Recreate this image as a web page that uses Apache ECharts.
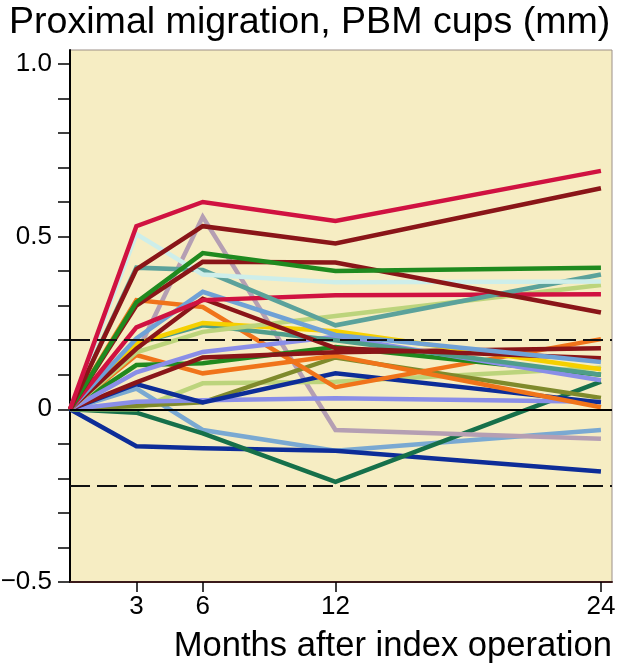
<!DOCTYPE html>
<html>
<head>
<meta charset="utf-8">
<script src="https://cdn.jsdelivr.net/npm/echarts@6/dist/echarts.min.js"></script>
<style>html,body{margin:0;padding:0;background:#fff;}#c{width:618px;height:665px;}</style>
</head>
<body>
<div id="c"></div>
<script>
// Months after index operation
var months = [0, 3, 6, 12, 24];
var xTickValues = [3, 6, 12, 24];
var yTickValues = [-0.5,-0.4,-0.3,-0.2,-0.1,0,0.1,0.2,0.3,0.4,0.5,0.6,0.7,0.8,0.9,1.0];
var yLabelValues = [-0.5, 0, 0.5, 1.0];
var limitLines = [0.2, -0.22];

// Proximal migration (mm) per cup
var crimsonTop   = [0, 0.53, 0.60, 0.545, 0.69];
var maroonTop    = [0, 0.405, 0.53, 0.48, 0.64];
var lightCyan    = [0, 0.507, 0.39, 0.368, 0.37];
var mauve        = [0, 0.16, 0.557, -0.06, -0.085];
var greenTop     = [0, 0.31, 0.452, 0.40, 0.41];
var maroon2      = [0, 0.30, 0.427, 0.425, 0.28];
var teal1        = [0, 0.41, 0.403, 0.243, 0.39];
var orangeU      = [0, 0.316, 0.296, 0.064, 0.203];
var orangeL      = [0, 0.157, 0.104, 0.155, 0.006];
var steelBlue    = [0, 0.205, 0.34, 0.215, 0.137];
var lightBlue    = [0, 0.06, -0.06, -0.12, -0.06];
var navyLow      = [0, -0.107, -0.113, -0.12, -0.18];
var darkGreen    = [0, -0.01, -0.07, -0.21, 0.08];
var navyUp       = [0, 0.073, 0.02, 0.104, 0.02];
var periLow      = [0, 0.022, 0.026, 0.032, 0.022];
var periUp       = [0, 0.107, 0.166, 0.21, 0.084];
var yellow       = [0, 0.19, 0.25, 0.226, 0.116];
var lightGreenA  = [0, 0.0, 0.075, 0.08, 0.12];
var lightGreenB  = [0, 0.165, 0.224, 0.27, 0.36];
var olive        = [0, 0.01, 0.02, 0.15, 0.033];
var maroon3      = [0, 0.175, 0.32, 0.177, 0.148];
var maroon4      = [0, 0.078, 0.15, 0.165, 0.177];
var crimson2     = [0, 0.237, 0.316, 0.33, 0.333];
var greenLow     = [0, 0.128, 0.133, 0.18, 0.10];
var teal2        = [0, 0.19, 0.243, 0.20, 0.10];

var lines = [
  {d: lightBlue,   c: '#7aa9d2'},
  {d: navyLow,     c: '#0d2d98'},
  {d: darkGreen,   c: '#16704a'},
  {d: mauve,       c: '#b59fb3'},
  {d: lightGreenA, c: '#bcd47c'},
  {d: olive,       c: '#7f8a2c'},
  {d: periLow,     c: '#8a8ee8'},
  {d: navyUp,      c: '#0d2d98'},
  {d: orangeL,     c: '#f0741a'},
  {d: orangeU,     c: '#f0741a'},
  {d: greenLow,    c: '#20891f'},
  {d: maroon4,     c: '#8a1518'},
  {d: periUp,      c: '#8a8ee8'},
  {d: teal2,       c: '#4f9d8b'},
  {d: yellow,      c: '#f6d000'},
  {d: lightGreenB, c: '#bcd47c'},
  {d: maroon3,     c: '#8a1518'},
  {d: steelBlue,   c: '#6fa1d6'},
  {d: crimson2,    c: '#d01241'},
  {d: teal1,       c: '#5ba29b'},
  {d: lightCyan,   c: '#cdeeea'},
  {d: maroon2,     c: '#8a1518'},
  {d: greenTop,    c: '#1f8a1f'},
  {d: maroonTop,   c: '#8a1518'},
  {d: crimsonTop,  c: '#d01241'}
];

var series = [{
  type: 'line', data: [], silent: true,
  markLine: {
    silent: true, symbol: 'none', animation: false,
    label: {show: false},
    data: [
      {yAxis: 0, lineStyle: {color: '#000', width: 2, type: 'solid'}},
      {yAxis: limitLines[0], lineStyle: {color: '#111', width: 2, type: [20, 7]}},
      {yAxis: limitLines[1], lineStyle: {color: '#111', width: 2, type: [20, 7]}}
    ]
  }
}];
lines.forEach(function (l) {
  series.push({
    type: 'line',
    data: months.map(function (m, i) { return [m, l.d[i]]; }),
    showSymbol: false, symbol: 'none', silent: true,
    lineStyle: {color: l.c, width: 4.5, join: 'miter'},
    animation: false
  });
});

function fmtY(v) {
  if (Math.abs(v) < 1e-9) return '0';
  var s = Math.abs(v).toFixed(1);
  return v < 0 ? '\u2212' + s : s;
}

var chart = echarts.init(document.getElementById('c'), null, {renderer: 'canvas'});
chart.setOption({
  animation: false,
  backgroundColor: '#ffffff',
  title: {
    text: 'Proximal migration, PBM cups (mm)',
    left: 4, top: -1,
    textStyle: {fontFamily: 'Liberation Sans, Arial, sans-serif', fontSize: 37.6, fontWeight: 'normal', color: '#000'}
  },
  grid: {
    left: 70, right: 6, top: 50, bottom: 83,
    containLabel: false, outerBoundsMode: 'none',
    show: true, backgroundColor: '#f6edc3', borderColor: '#9c9088', borderWidth: 1
  },
  xAxis: {
    type: 'value', min: 0, max: 24.5,
    name: 'Months after index operation',
    nameLocation: 'end', nameGap: 0,
    nameTextStyle: {fontFamily: 'Liberation Sans, Arial, sans-serif', fontSize: 34.6, color: '#000', align: 'right', verticalAlign: 'top', padding: [47, 0, 0, 0]},
    axisLine: {show: true, onZero: false, lineStyle: {color: '#3a1a1a', width: 2}},
    axisTick: {show: true, length: 10, customValues: xTickValues, lineStyle: {color: '#000', width: 1.5}},
    axisLabel: {customValues: xTickValues, margin: 12, fontFamily: 'Liberation Sans, Arial, sans-serif', fontSize: 26, color: '#000'},
    splitLine: {show: false}
  },
  yAxis: {
    type: 'value', min: -0.5, max: 1.04,
    axisLine: {show: true, onZero: false, lineStyle: {color: '#000', width: 2}},
    axisTick: {show: true, length: 12, customValues: yTickValues, lineStyle: {color: '#000', width: 1.5}},
    axisLabel: {customValues: yLabelValues, margin: 18, formatter: fmtY, fontFamily: 'Liberation Sans, Arial, sans-serif', fontSize: 26, color: '#000'},
    splitLine: {show: false}
  },
  series: series
});
</script>
</body>
</html>
